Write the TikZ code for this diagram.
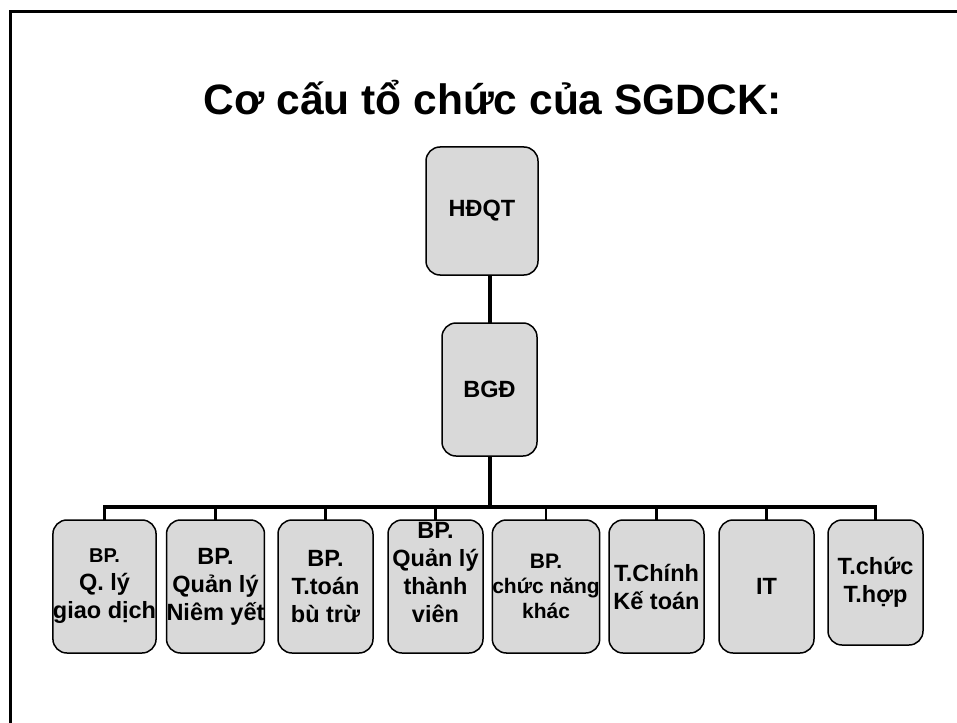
\documentclass[tikz,border=0pt]{standalone}
\usepackage{fontspec}
\setmainfont{Liberation Sans}
\definecolor{boxgray}{RGB}{217,217,217}
\newcommand\orgboxfont{\fontsize{23.5}{28}\selectfont\bfseries}
\newcommand\orgsmallfont{\fontsize{21}{25}\selectfont\bfseries}
\begin{document}
\begin{tikzpicture}[x=1pt,y=-1pt,
  unit/.style={draw=black, line width=1.5pt, fill=boxgray, rounded corners=14pt,
    inner sep=0pt, outer sep=0pt, align=center, font=\orgboxfont,
    minimum width=95pt, minimum height=133pt},
  unittext/.style={inner sep=0pt, align=center, font=\orgboxfont},
  trunk/.style={line width=4pt},
  busline/.style={line width=3.5pt, line cap=rect},
  drop/.style={line width=2.5pt}]
\useasboundingbox (0,0) rectangle (957,722);

% slide frame
\draw[line width=3pt, line join=miter] (10.5,740) -- (10.5,12) -- (970,12);

% title
\node[anchor=base, inner sep=0pt, font=\fontsize{42.5}{50}\selectfont\bfseries]
  (title) at (493,115) {Cơ cấu tổ chức của SGDCK:};

% top levels
\node[unit, minimum width=112pt, minimum height=128pt] (hdqt) at (482,211) {HĐQT};
\node[unit] (bgd) at (489.5,389.5) {BGĐ};
\coordinate (bus) at (489.5,507);

% departments
\node[unit] (b1) at (104.5,586.5) {{\fontsize{20}{28}\selectfont BP.}\\Q. lý\\giao dịch};
\node[unit] (b2) at (215.5,586.5) {BP.\\Quản lý\\Niêm yết};
\node[unit] (b3) at (325.5,586.5) {BP.\\T.toán\\bù trừ};
\node[unit] (b4) at (435.5,586.5) {};
\node[unittext] (t4) at ([yshift=14pt]b4.center) {BP.\\Quản lý\\thành\\viên};
\node[unit, font=\orgsmallfont] (b5) at (546,586.5) {BP.\\chức năng\\khác};
\node[unit] (b6) at (656.5,586.5) {T.Chính\\Kế toán};
\node[unit] (b7) at (766.5,586.5) {IT};
\node[unit, minimum height=125pt] (b8) at (875.5,582.5) {T.chức\\T.hợp};

% connectors
\draw[trunk] (hdqt.south -| bgd.north) -- (bgd.north);
\draw[trunk] (bgd.south) -- (bus);
\draw[busline] (b1.north |- bus) -- (b8.north |- bus);
\foreach \i in {1,...,8}
  \draw[drop] (b\i.north) -- (b\i.north |- bus);
\end{tikzpicture}
\end{document}
